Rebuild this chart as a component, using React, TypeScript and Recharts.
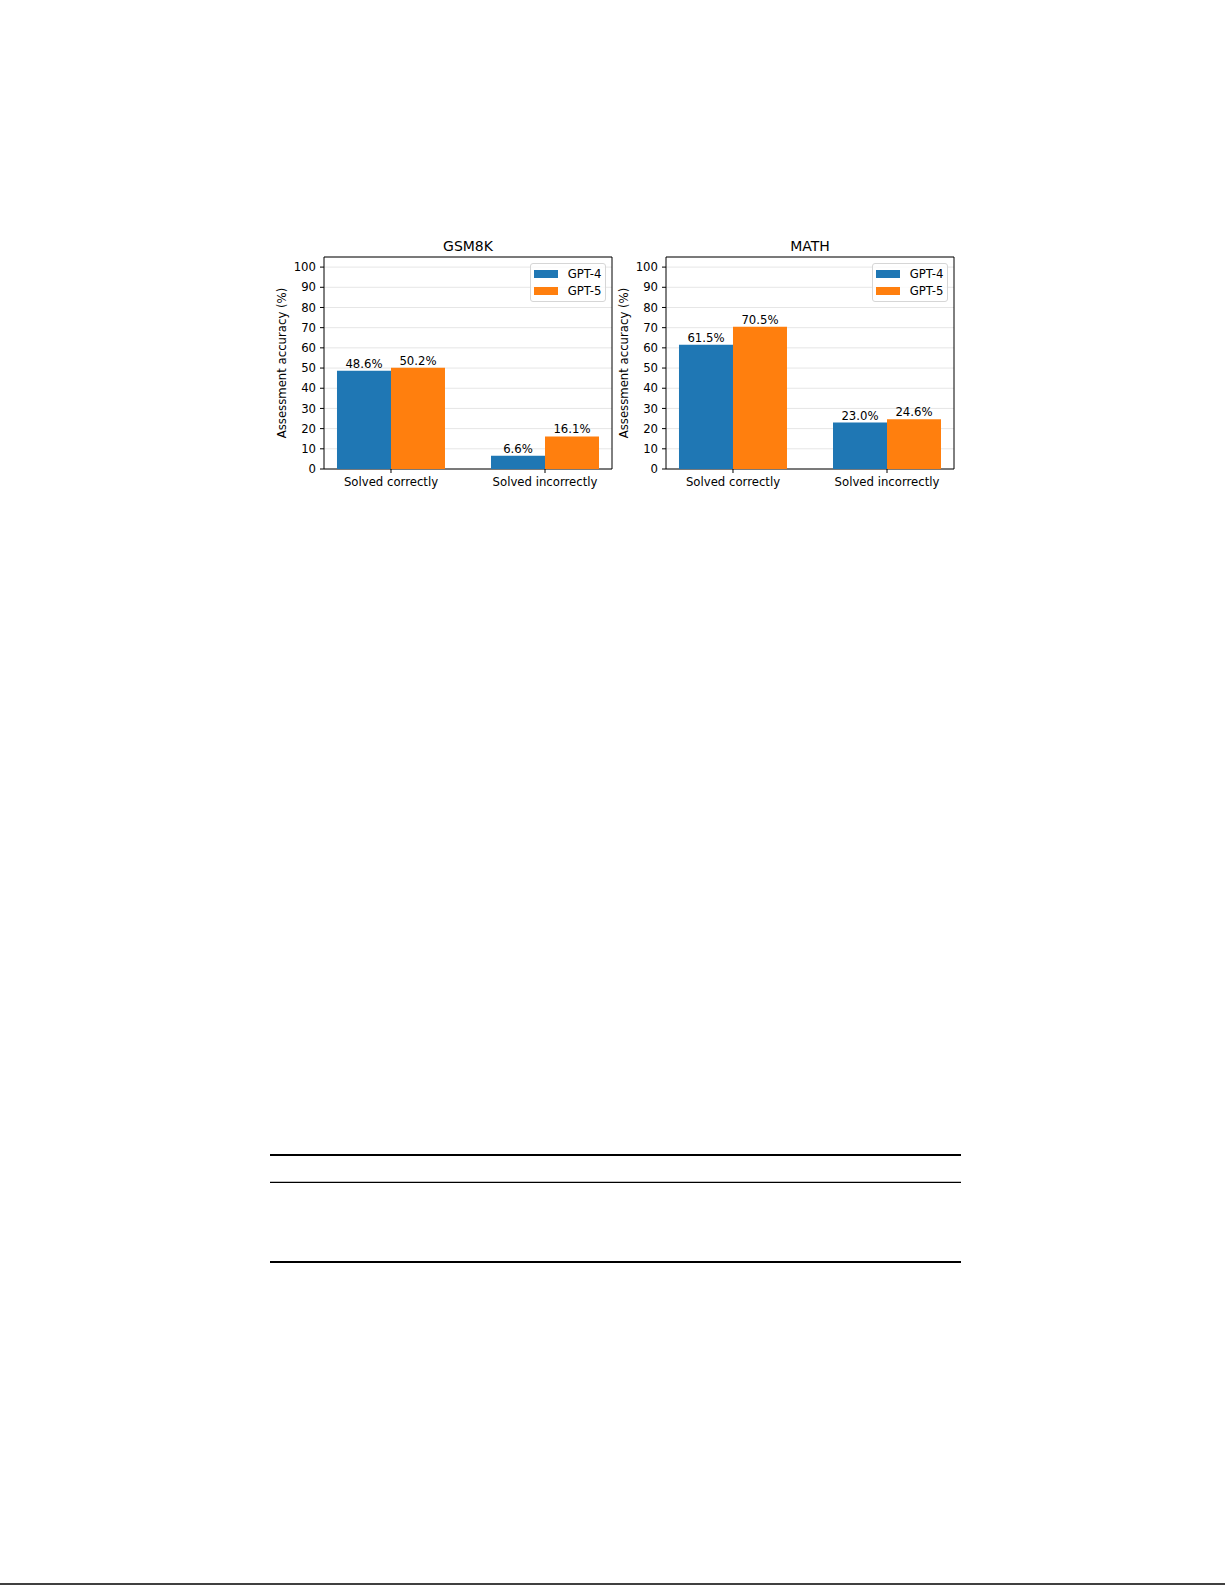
import { Bar, BarChart, CartesianGrid, LabelList, Legend, ReferenceArea, XAxis, YAxis } from "recharts";

const categories = ["Solved correctly", "Solved incorrectly"];
const xPositions = [0, 1];
const gsm8kGpt4 = [48.6, 6.6];
const gsm8kGpt5 = [50.2, 16.1];
const mathGpt4 = [61.5, 23.0];
const mathGpt5 = [70.5, 24.6];
const yTicks = [0, 10, 20, 30, 40, 50, 60, 70, 80, 90, 100];

const BLUE = "#1f77b4";
const ORANGE = "#ff7f0e";
const FONT = "'DejaVu Sans', sans-serif";
const FS = 11.7;
const X_DOMAIN: [number, number] = [-0.435, 1.435];

function buildRows(gpt4: number[], gpt5: number[]) {
  return xPositions.map((x, i) => ({ x, name: categories[i], gpt4: gpt4[i], gpt5: gpt5[i] }));
}

const pct = (v: unknown) => `${Number(v).toFixed(1)}%`;

// eslint-disable-next-line @typescript-eslint/no-explicit-any
function renderLegend(props: any) {
  const payload = props.payload ?? [];
  return (
    <div
      style={{
        position: "relative",
        width: 76,
        height: 39,
        boxSizing: "border-box",
        border: "1px solid #d6d6d6",
        borderRadius: 3,
        background: "rgba(255,255,255,0.8)",
        fontFamily: FONT,
        fontSize: FS,
        color: "#000",
      }}
    >
      {payload.map((p: any, i: number) => (
        <div
          key={p.value}
          style={{ position: "absolute", left: 3.3, top: 2.5 + i * 17, height: 14, display: "flex", alignItems: "center" }}
        >
          <span style={{ display: "inline-block", width: 24, height: 8, background: p.color }} />
          <span style={{ marginLeft: 9.4, lineHeight: "14px", whiteSpace: "nowrap" }}>{p.value}</span>
        </div>
      ))}
    </div>
  );
}

// eslint-disable-next-line @typescript-eslint/no-explicit-any
function yLabel(props: any) {
  const vb = props.viewBox ?? { x: 0, y: 0, width: 0, height: 0 };
  const x = vb.x + 21;
  const y = vb.y + vb.height / 2;
  return (
    <text x={x} y={y} transform={`rotate(-90, ${x}, ${y})`} textAnchor="middle" fontSize={FS} fill="#000">
      Assessment accuracy (%)
    </text>
  );
}

function Panel({ left, rows }: { left: number; rows: ReturnType<typeof buildRows> }) {
  return (
    <div style={{ position: "absolute", left, top: 228, width: 350, height: 265, fontFamily: FONT }}>
      <BarChart width={350} height={265} data={rows} margin={{ top: 29, right: 3, bottom: 0, left: 0 }} barGap={0}>
        <CartesianGrid vertical={false} stroke="#e6e6e6" strokeWidth={1} />
        <XAxis
          dataKey="x"
          type="number"
          domain={X_DOMAIN}
          allowDataOverflow
          ticks={xPositions}
          interval={0}
          tickFormatter={(v: number) => categories[v] ?? ""}
          height={24}
          axisLine={false}
          tickLine={{ stroke: "#000" }}
          tickSize={4}
          tickMargin={5}
          tick={{ fontSize: FS, fill: "#000" }}
        />
        <YAxis
          type="number"
          domain={[0, 105]}
          allowDataOverflow
          ticks={yTicks}
          interval={0}
          width={59}
          axisLine={false}
          tickLine={{ stroke: "#000" }}
          tickSize={4}
          tickMargin={4}
          tick={{ fontSize: FS, fill: "#000" }}
          label={yLabel}
        />
        <Bar dataKey="gpt4" name="GPT-4" fill={BLUE} barSize={54} isAnimationActive={false}>
          <LabelList dataKey="gpt4" position="top" offset={3} formatter={pct} fontSize={FS} fill="#000" />
        </Bar>
        <Bar dataKey="gpt5" name="GPT-5" fill={ORANGE} barSize={54} isAnimationActive={false}>
          <LabelList dataKey="gpt5" position="top" offset={3} formatter={pct} fontSize={FS} fill="#000" />
        </Bar>
        <ReferenceArea
          x1={X_DOMAIN[0]}
          x2={X_DOMAIN[1]}
          y1={0}
          y2={105}
          fill="none"
          fillOpacity={0}
          stroke="#000"
          strokeWidth={1}
          ifOverflow="visible"
        />
        <Legend
          layout="vertical"
          align="center"
          verticalAlign="middle"
          content={renderLegend}
          wrapperStyle={{ left: 265, top: 35, width: 76, height: 39 }}
        />
      </BarChart>
    </div>
  );
}

export default function App() {
  return (
    <div style={{ position: "absolute", left: 0, top: 0, width: 1225, height: 1585, background: "#fff", fontFamily: FONT }}>
      <svg width={1225} height={1585} style={{ position: "absolute", left: 0, top: 0 }}>
        <text x={468} y={250.5} textAnchor="middle" fontSize={14} fill="#000" fontFamily={FONT}>
          GSM8K
        </text>
        <text x={810} y={250.5} textAnchor="middle" fontSize={14} fill="#000" fontFamily={FONT}>
          MATH
        </text>
        <line x1={270} x2={961} y1={1155} y2={1155} stroke="#000" strokeWidth={2} />
        <line x1={270} x2={961} y1={1182.3} y2={1182.3} stroke="#000" strokeWidth={1.2} />
        <line x1={270} x2={961} y1={1262} y2={1262} stroke="#000" strokeWidth={2} />
        <line x1={0} x2={1225} y1={1584} y2={1584} stroke="#000" strokeWidth={1.5} />
      </svg>
      <Panel left={265} rows={buildRows(gsm8kGpt4, gsm8kGpt5)} />
      <Panel left={607} rows={buildRows(mathGpt4, mathGpt5)} />
    </div>
  );
}
